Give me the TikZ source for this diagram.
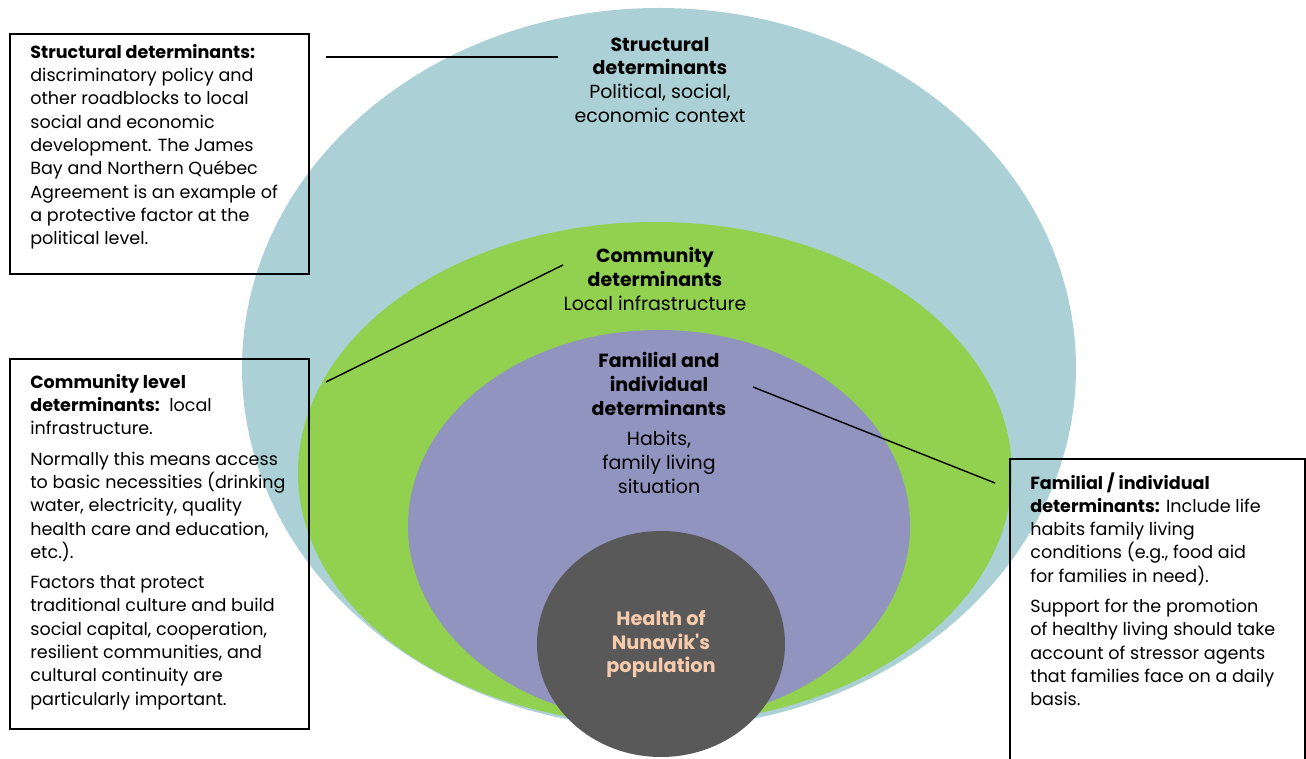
\documentclass[tikz,border=0pt]{standalone}
\usepackage{fontspec}
\setmainfont{Poppins}
\usetikzlibrary{positioning}

\definecolor{structblue}{HTML}{ABD1D6}
\definecolor{commgreen}{HTML}{92D050}
\definecolor{familypurple}{HTML}{9194BE}
\definecolor{coregray}{HTML}{595959}
\definecolor{corepeach}{HTML}{F8CBAD}

\begin{document}
\begin{tikzpicture}[x=0.02cm, y=-0.02cm,
  boxtext/.style={anchor=north west, align=left, inner sep=0pt, font=\fontsize{10}{13.25}\selectfont},
  boxframe/.style={line width=0.9pt},
  ringtitle/.style={align=center, inner sep=0pt, font=\fontsize{10.8}{13.6}\selectfont},
  leader/.style={line width=0.8pt}]
  \clip (0,0) rectangle (1306,759);

  % nested levels, outermost first
  \fill[structblue] (659,368) ellipse [x radius=417, y radius=360];
  \fill[commgreen] (655,473) ellipse [x radius=357, y radius=251];
  \fill[familypurple] (659,526) ellipse [x radius=251, y radius=196];
  \fill[coregray] (661,644) ellipse [x radius=124, y radius=113];

  \node[ringtitle] (structtitle) at (660,80) {\textbf{Structural}\\\textbf{determinants}\\Political, social,\\economic context};
  \node[ringtitle] (commtitle) at (655,279) {\textbf{Community}\\\textbf{determinants}\\Local infrastructure};
  \node[ringtitle] (familytitle) at (659,423) {\textbf{Familial and}\\\textbf{individual}\\\textbf{determinants}\\[4pt]Habits,\\family living\\situation};
  \node[ringtitle, text=corepeach, font=\bfseries\fontsize{11}{13.3}\selectfont] (health) at (661,644) {Health of\\Nunavik\textquotesingle s\\population};

  % side boxes
  \draw[boxframe] (10,34) rectangle (309,274);
  \node[boxtext] (structbox) at (30,44) {\textbf{Structural determinants:}\\
    discriminatory policy and\\other roadblocks to local\\social and economic\\
    development. The James\\Bay and Northern Québec\\Agreement is an example of\\
    a protective factor at the\\political level.};

  \draw[boxframe] (10,359) rectangle (309,729);
  \node[boxtext] (commbox) at (30,374) {\textbf{Community level}\\
    \textbf{determinants:}\ \ local\\infrastructure.\\[4pt]
    Normally this means access\\to basic necessities (drinking\\water, electricity, quality\\
    health care and education,\\etc.).\\[4pt]
    Factors that protect\\traditional culture and build\\social capital, cooperation,\\
    resilient communities, and\\cultural continuity are\\particularly important.};

  \draw[boxframe] (1010,459) rectangle (1305,800);
  \node[boxtext] (familybox) at (1030,472) {\textbf{Familial / individual}\\
    \textbf{determinants:} Include life\\habits family living\\conditions (e.g., food aid\\
    for families in need).\\[4pt]
    Support for the promotion\\of healthy living should take\\account of stressor agents\\
    that families face on a daily\\basis.};

  % leader lines from boxes to levels
  \coordinate (s1) at (326,57);
  \coordinate (s2) at (558,57);
  \coordinate (c1) at (326,382);
  \coordinate (c2) at (563,265);
  \coordinate (f1) at (753,387);
  \coordinate (f2) at (995,483);
  \draw[leader] (s1) -- (s2);
  \draw[leader] (c1) -- (c2);
  \draw[leader] (f1) -- (f2);
\end{tikzpicture}
\end{document}
